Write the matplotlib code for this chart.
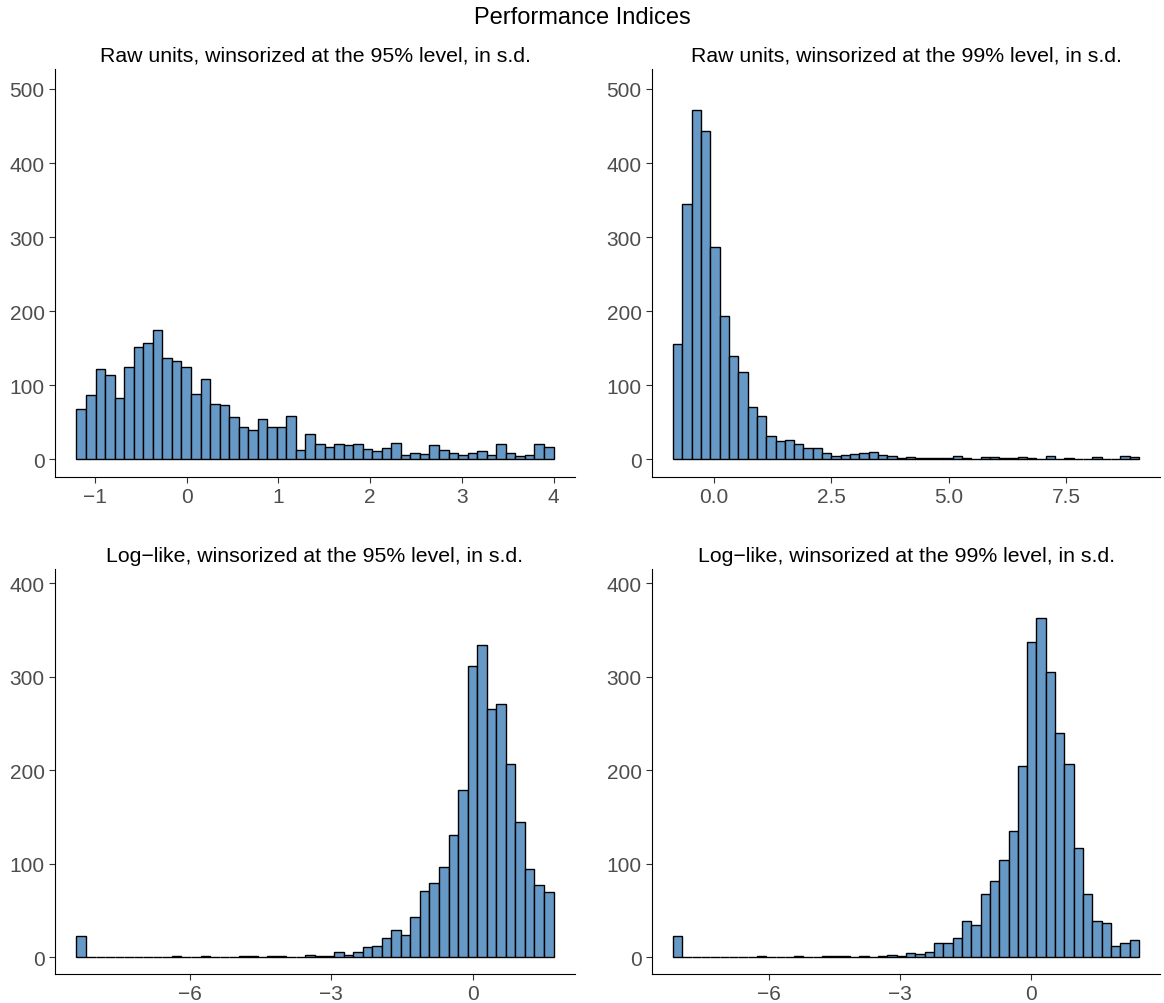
import matplotlib.pyplot as plt
import numpy as np

plt.rcParams['font.family'] = ['Liberation Sans', 'DejaVu Sans']

# counts per bin (50 bins per panel)
raw95 = [68, 87, 122, 114, 83, 125, 151, 157, 174, 137, 132, 125, 88, 109, 75, 73, 57, 43, 40, 55,
         44, 43, 58, 13, 34, 20, 16, 21, 19, 20, 14, 11, 15, 22, 6, 8, 7, 19, 12, 9,
         6, 8, 11, 6, 20, 8, 5, 6, 20, 17]
raw99 = [155, 345, 472, 443, 287, 194, 140, 118, 71, 58, 31, 25, 26, 20, 15, 15, 8, 5, 6, 7,
         9, 10, 6, 5, 2, 3, 1, 2, 2, 1, 5, 1, 0, 3, 3, 1, 1, 3, 2, 0,
         5, 0, 1, 0, 0, 3, 0, 0, 5, 3]
log95 = [23, 0, 0, 0, 0, 0, 0, 0, 0, 0, 1, 0, 0, 1, 0, 0, 0, 1, 1, 0,
         1, 1, 0, 0, 2, 1, 1, 5, 2, 6, 11, 12, 20, 29, 24, 43, 71, 79, 96, 131,
         179, 311, 334, 265, 271, 206, 145, 94, 77, 70]
log99 = [23, 0, 0, 0, 0, 0, 0, 0, 0, 1, 0, 0, 0, 1, 0, 0, 1, 1, 1, 0,
         1, 0, 1, 2, 1, 4, 3, 6, 15, 15, 21, 39, 34, 67, 81, 104, 135, 204, 337, 363,
         305, 240, 206, 117, 67, 39, 37, 12, 15, 18]

ranges = [(-1.2, 4.0), (-0.88, 9.06), (-8.41, 1.72), (-8.19, 2.48)]
titles = ["Raw units, winsorized at the 95% level, in s.d.",
          "Raw units, winsorized at the 99% level, in s.d.",
          "Log\u2212like, winsorized at the 95% level, in s.d.",
          "Log\u2212like, winsorized at the 99% level, in s.d."]
xticks = [[-1, 0, 1, 2, 3, 4], [0, 2.5, 5, 7.5], [-6, -3, 0], [-6, -3, 0]]
xticklabels = [["\u22121", "0", "1", "2", "3", "4"], ["0.0", "2.5", "5.0", "7.5"],
               ["\u22126", "\u22123", "0"], ["\u22126", "\u22123", "0"]]
data = [raw95, raw99, log95, log99]

W, H = 1164, 1004
fig = plt.figure(figsize=(W / 100, H / 100), dpi=100)
boxes = [(55, 70, 575, 478), (652, 70, 1160, 478), (55, 570, 575, 975), (652, 570, 1160, 975)]
ylims = [(-24, 527), (-24, 527), (-18, 415), (-18, 415)]
yticks = [range(0, 501, 100), range(0, 501, 100), range(0, 401, 100), range(0, 401, 100)]

for i in range(4):
    x0, y0, x1, y1 = boxes[i]
    ax = fig.add_axes([x0 / W, 1 - y1 / H, (x1 - x0) / W, (y1 - y0) / H])
    lo, hi = ranges[i]
    edges = np.linspace(lo, hi, len(data[i]) + 1)
    ax.bar(edges[:-1], data[i], width=edges[1] - edges[0], align='edge',
           color='#6699c6', edgecolor='black', linewidth=1)
    pad = (hi - lo) * 0.045
    ax.set_xlim(lo - pad, hi + pad)
    ax.set_ylim(*ylims[i])
    ax.set_xticks(xticks[i])
    ax.set_xticklabels(xticklabels[i])
    ax.set_yticks(list(yticks[i]))
    ax.spines['top'].set_visible(False)
    ax.spines['right'].set_visible(False)
    ax.tick_params(labelsize=15, colors='#4d4d4d', length=4)
    ax.tick_params(axis='both', color='#333333')
    ax.set_title(titles[i], fontsize=15.3, pad=6)

fig.text(0.5, 1 - 18 / H, "Performance Indices", ha='center', va='center', fontsize=17)
fig.savefig("out.png", dpi=100)
